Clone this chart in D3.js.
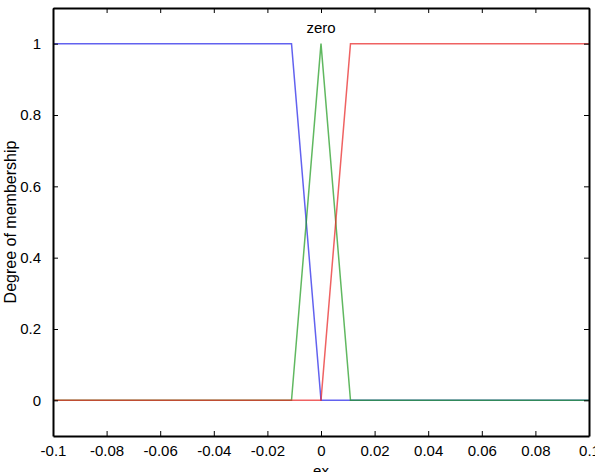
<!DOCTYPE html>
<html>
<head>
<meta charset="utf-8">
<script src="https://cdn.jsdelivr.net/npm/d3@7"></script>
<style>
  body { margin: 0; background: #fff; }
  text { font-family: "Liberation Sans", Arial, sans-serif; }
</style>
</head>
<body>
<div id="chart"></div>
<script>
// membership functions (x breakpoints, degree)
var xTicks = [-0.1, -0.08, -0.06, -0.04, -0.02, 0, 0.02, 0.04, 0.06, 0.08, 0.1];
var yTicks = [0, 0.2, 0.4, 0.6, 0.8, 1];
var negX = [-0.1, -0.011, 0, 0.1];
var negY = [1, 1, 0, 0];
var zeroX = [-0.1, -0.011, 0, 0.011, 0.1];
var zeroY = [0, 0, 1, 0, 0];
var posX = [-0.1, 0, 0.011, 0.1];
var posY = [0, 0, 1, 1];

var width = 595, height = 472;
var margin = {top: 8, left: 53, bottom: 36, right: 6};

var svg = d3.select("#chart").append("svg")
    .attr("width", width).attr("height", height);

var x = d3.scaleLinear().domain([-0.1, 0.1]).range([margin.left, width - margin.right]);
var y = d3.scaleLinear().domain([-0.1, 1.1]).range([height - margin.bottom, margin.top]);

var fmt = function(d){ return d === 0 ? "0" : String(+d.toFixed(2)); };

var series = [
    {xs: negX, ys: negY, color: "#1f1fe8"},
    {xs: zeroX, ys: zeroY, color: "#1c9a1c"},
    {xs: posX, ys: posY, color: "#e81f1f"}
];

var line = d3.line().x(function(d){ return x(d[0]); }).y(function(d){ return y(d[1]); });

series.forEach(function(s){
    svg.append("path")
        .datum(d3.zip(s.xs, s.ys))
        .attr("d", line)
        .attr("fill", "none")
        .attr("stroke", s.color)
        .attr("stroke-opacity", 0.7)
        .attr("stroke-width", 1.5);
});

// axes, ticks inward on all four sides
var axBottom = svg.append("g")
    .attr("transform", "translate(0," + y(-0.1) + ")")
    .call(d3.axisBottom(x).tickValues(xTicks).tickFormat(fmt).tickSizeInner(-5).tickSizeOuter(0).tickPadding(9));
var axTop = svg.append("g")
    .attr("transform", "translate(0," + y(1.1) + ")")
    .call(d3.axisTop(x).tickValues(xTicks).tickFormat("").tickSizeInner(-5).tickSizeOuter(0));
var axLeft = svg.append("g")
    .attr("transform", "translate(" + x(-0.1) + ",0)")
    .call(d3.axisLeft(y).tickValues(yTicks).tickFormat(fmt).tickSizeInner(-5).tickSizeOuter(0).tickPadding(12));
var axRight = svg.append("g")
    .attr("transform", "translate(" + x(0.1) + ",0)")
    .call(d3.axisRight(y).tickValues(yTicks).tickFormat("").tickSizeInner(-5).tickSizeOuter(0));

[axBottom, axTop, axLeft, axRight].forEach(function(g){
    g.select(".domain").attr("stroke", "#000").attr("stroke-width", 2);
    g.selectAll(".tick line").attr("stroke", "#000").attr("stroke-width", 1);
    g.selectAll(".tick text").attr("font-size", 15).attr("fill", "#000")
        .style("font-family", "'Liberation Sans', Arial, sans-serif");
});

svg.append("text")
    .attr("x", x(0)).attr("y", 33)
    .attr("text-anchor", "middle")
    .attr("font-size", 15)
    .text("zero");

svg.append("text")
    .attr("transform", "translate(16," + y(0.5) + ") rotate(-90)")
    .attr("text-anchor", "middle")
    .attr("font-size", 16)
    .text("Degree of membership");

svg.append("text")
    .attr("x", x(0)).attr("y", 476)
    .attr("text-anchor", "middle")
    .attr("font-size", 15)
    .text("ex");
</script>
</body>
</html>
